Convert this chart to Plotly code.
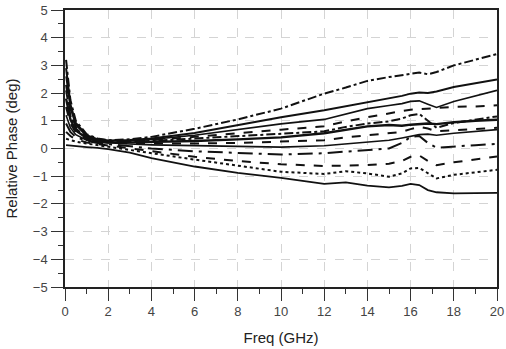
import plotly.graph_objects as go

freq = [0.05, 0.25, 0.5, 1.0, 1.5, 2, 3, 4, 6, 8, 10, 12, 13, 14, 15, 15.6, 16.0, 16.4, 16.8, 17.2, 18, 19, 20]

curve_a = [3.2, 1.75, 1.0, 0.52, 0.36, 0.3, 0.33, 0.42, 0.71, 1.05, 1.44, 1.98, 2.2, 2.44, 2.58, 2.64, 2.7, 2.74, 2.68, 2.76, 3.0, 3.2, 3.41]
curve_b = [2.9, 1.6, 0.92, 0.48, 0.34, 0.29, 0.31, 0.36, 0.56, 0.84, 1.13, 1.38, 1.52, 1.68, 1.82, 1.9, 1.98, 2.02, 2.0, 2.06, 2.22, 2.36, 2.49]
curve_c = [2.6, 1.45, 0.85, 0.45, 0.32, 0.28, 0.29, 0.33, 0.48, 0.68, 0.89, 1.05, 1.25, 1.44, 1.55, 1.62, 1.7, 1.72, 1.6, 1.48, 1.7, 1.9, 2.1]
curve_d = [2.3, 1.3, 0.78, 0.42, 0.3, 0.26, 0.27, 0.3, 0.42, 0.56, 0.68, 0.8, 0.98, 1.13, 1.28, 1.35, 1.4, 1.42, 1.45, 1.45, 1.5, 1.52, 1.56]
curve_e = [2.1, 1.2, 0.72, 0.4, 0.29, 0.25, 0.25, 0.27, 0.36, 0.45, 0.52, 0.62, 0.78, 0.9, 0.98, 1.08, 1.2, 1.25, 1.0, 0.75, 0.92, 1.05, 1.16]
curve_f = [1.8, 1.05, 0.65, 0.37, 0.27, 0.23, 0.22, 0.23, 0.27, 0.33, 0.4, 0.55, 0.68, 0.8, 0.85, 0.82, 0.86, 0.88, 0.9, 0.88, 0.95, 1.0, 1.04]
curve_g = [1.5, 0.9, 0.58, 0.34, 0.25, 0.21, 0.19, 0.18, 0.18, 0.2, 0.25, 0.3, 0.4, 0.47, 0.55, 0.6, 0.7, 0.78, 0.72, 0.62, 0.66, 0.7, 0.75]
curve_i = [1.2, 0.75, 0.5, 0.3, 0.23, 0.2, 0.16, 0.13, 0.1, 0.08, 0.05, 0.1, 0.16, 0.23, 0.3, 0.38, 0.45, 0.5, 0.52, 0.48, 0.55, 0.62, 0.68]
curve_h = [0.9, 0.6, 0.42, 0.27, 0.2, 0.16, 0.08, 0.0, -0.1, -0.17, -0.22, -0.17, -0.12, -0.07, 0.0, 0.2, 0.42, 0.45, 0.2, 0.03, 0.08, 0.12, 0.17]
curve_j = [0.6, 0.45, 0.33, 0.22, 0.16, 0.11, 0.0, -0.1, -0.3, -0.45, -0.57, -0.63, -0.62, -0.6, -0.55, -0.45, -0.3, -0.25, -0.45, -0.6, -0.5, -0.4, -0.29]
curve_k = [0.35, 0.3, 0.25, 0.18, 0.12, 0.07, -0.05, -0.17, -0.4, -0.62, -0.84, -0.92, -0.82, -0.9, -1.02, -0.9, -0.72, -0.7, -0.9, -1.08, -0.95, -0.85, -0.77]
curve_l = [0.12, 0.1, 0.08, 0.05, 0.02, -0.02, -0.15, -0.35, -0.65, -0.88, -1.06, -1.28, -1.22, -1.34, -1.4, -1.35, -1.28, -1.32, -1.5, -1.58, -1.62, -1.6, -1.6]

curves = [curve_a, curve_b, curve_c, curve_d, curve_e, curve_f, curve_g, curve_i, curve_h, curve_j, curve_k, curve_l]
dashes = ["dashdot", "solid", "solid", "dash", "dashdot", "solid", "dash", "solid", "longdashdot", "dash", "dot", "solid"]
widths = [2.0, 2.0, 1.6, 2.0, 2.0, 2.4, 2.0, 1.6, 2.0, 2.0, 2.0, 1.8]

fig = go.Figure()
for ys, d, w in zip(curves, dashes, widths):
    fig.add_trace(go.Scatter(x=freq, y=ys, mode="lines",
                             line=dict(color="#111111", width=w, dash=d),
                             showlegend=False, hoverinfo="skip"))

font_family = "Liberation Sans, Arial, sans-serif"
fig.update_layout(
    width=506, height=349,
    margin=dict(l=65, r=9, t=10, b=62),
    paper_bgcolor="white", plot_bgcolor="white",
    font=dict(family=font_family, color="#333333", size=13),
)
fig.update_xaxes(
    range=[0, 20], tickvals=[0, 2, 4, 6, 8, 10, 12, 14, 16, 18, 20],
    showline=True, linecolor="#222", linewidth=1.5, mirror=True,
    ticks="outside", ticklen=12, tickcolor="#333", tickwidth=1.2,
    minor=dict(ticks="outside", ticklen=5, dtick=1, tick0=0, tickcolor="#333", showgrid=False),
    showgrid=True, gridcolor="#d4d4d4", griddash="dash", gridwidth=1,
    zeroline=False, automargin=False, ticklabeloverflow="allow",
    title=dict(text="Freq (GHz)", font=dict(size=15, color="#222"), standoff=14),
    tickfont=dict(size=13, color="#444"),
)
fig.update_yaxes(
    range=[-5, 5], tickvals=list(range(-5, 6)),
    showline=True, linecolor="#222", linewidth=1.5, mirror=True,
    ticks="outside", ticklen=12, tickcolor="#333", tickwidth=1.2,
    minor=dict(ticks="outside", ticklen=5, dtick=0.5, tick0=0, tickcolor="#333", showgrid=False),
    showgrid=True, gridcolor="#d4d4d4", griddash="dash", gridwidth=1,
    zeroline=False, automargin=False,
    title=dict(text="Relative Phase (deg)", font=dict(size=15, color="#222"), standoff=12),
    tickfont=dict(size=13, color="#444"),
    ticklabelstandoff=1,
)
fig.write_html("out.html")
